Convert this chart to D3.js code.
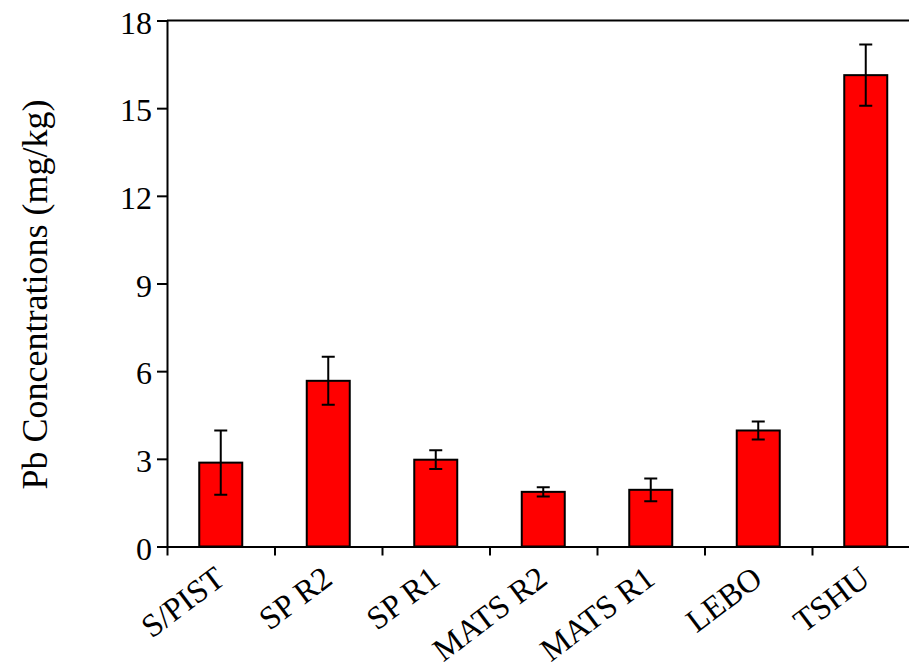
<!DOCTYPE html>
<html>
<head>
<meta charset="utf-8">
<script src="https://cdn.jsdelivr.net/npm/d3@7"></script>
<style>
  html, body { margin: 0; padding: 0; background: #fff; }
  svg { display: block; }
</style>
</head>
<body>
<script>
const categories = ["S/PIST", "SP R2", "SP R1", "MATS R2", "MATS R1", "LEBO", "TSHU"];
const means = [2.87, 5.67, 2.97, 1.87, 1.94, 3.97, 16.13];
const errors = [1.1, 0.82, 0.32, 0.16, 0.39, 0.31, 1.05];
const yTicks = [0, 3, 6, 9, 12, 15, 18];
const yLabel = "Pb Concentrations (mg/kg)";

const W = 909, H = 671;
const margin = { left: 167, right: -10.5, top: 20.5, bottom: 124.5 };

const svg = d3.select("body").append("svg").attr("width", W).attr("height", H);

const x = d3.scaleBand().domain(categories)
  .range([margin.left, W - margin.right]).padding(0);
const xb = d3.scaleLinear().domain([0, categories.length])
  .range([margin.left, W - margin.right]);
const y = d3.scaleLinear().domain([0, 18]).range([H - margin.bottom, margin.top]);

const font = '"Liberation Serif", monospace';
const barW = x.bandwidth() * 0.4;

// frame top & right
svg.append("path")
  .attr("d", `M${margin.left},${y(18)}H${W - margin.right}V${y(0)}`)
  .attr("fill", "none").attr("stroke", "#000").attr("stroke-width", 2);

// bars
svg.append("g").selectAll("rect").data(categories).join("rect")
  .attr("x", d => x(d) + (x.bandwidth() - barW) / 2)
  .attr("y", (d, i) => y(means[i]))
  .attr("width", barW)
  .attr("height", (d, i) => y(0) - y(means[i]))
  .attr("fill", "#ff0000").attr("stroke", "#000").attr("stroke-width", 2);

// error bars
const eg = svg.append("g").attr("stroke", "#000").attr("stroke-width", 2).attr("fill", "none");
const capW = 13;
categories.forEach((c, i) => {
  const cx = x(c) + x.bandwidth() / 2;
  const t = y(means[i] + errors[i]), b = y(means[i] - errors[i]);
  eg.append("path").attr("d",
    `M${cx},${t}V${b}M${cx - capW / 2},${t}H${cx + capW / 2}M${cx - capW / 2},${b}H${cx + capW / 2}`);
});

// y axis
const ya = svg.append("g").attr("transform", `translate(${margin.left},0)`)
  .call(d3.axisLeft(y).tickValues(yTicks).tickSize(10).tickSizeOuter(0).tickPadding(5).tickFormat(d3.format("d")));
ya.attr("font-family", null).attr("font-size", null);
ya.selectAll("path, line").attr("stroke", "#000").attr("stroke-width", 2);
ya.selectAll("text").style("font-family", font).style("font-size", "32px").attr("fill", "#000").attr("dy", "0.4em");

// x axis (ticks at category boundaries)
const xa = svg.append("g").attr("transform", `translate(0,${y(0)})`)
  .call(d3.axisBottom(xb).tickValues(d3.range(0, categories.length + 1)).tickSize(9).tickSizeOuter(0).tickFormat(""));
xa.selectAll("path, line").attr("stroke", "#000").attr("stroke-width", 2);

// x labels
svg.append("g").selectAll("text").data(categories).join("text")
  .attr("transform", d => `translate(${x(d) + x.bandwidth() / 2 + 6},${y(0) + 36}) rotate(-37)`)
  .attr("text-anchor", "end")
  .style("font-family", font).style("font-size", "32.5px").attr("fill", "#000")
  .text(d => d);

// y label
svg.append("text")
  .attr("transform", `translate(47,${(y(0) + y(18)) / 2 + 11}) rotate(-90)`)
  .attr("text-anchor", "middle")
  .style("font-family", font).style("font-size", "36px").attr("fill", "#000")
  .text(yLabel);
</script>
</body>
</html>
